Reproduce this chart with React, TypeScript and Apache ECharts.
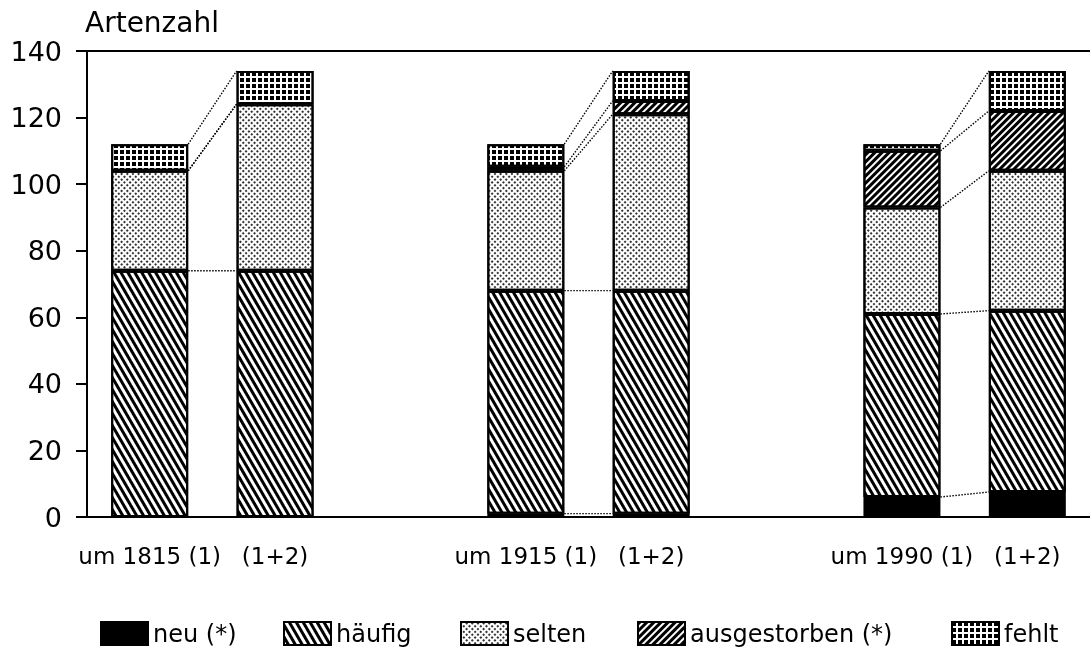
import React, { useEffect, useRef } from "react";
import * as echarts from "echarts";

const categories = ["um 1815 (1)", "(1+2)", "", "um 1915 (1)", "(1+2)", "", "um 1990 (1)", "(1+2)"];
const neu = [0, 0, null, 1, 1, null, 6, 7.5];
const haeufig = [74, 74, null, 67, 67, null, 55, 54.5];
const selten = [30, 50, null, 36, 53, null, 32, 42];
const ausgestorben = [0, 0, null, 1.2, 4, null, 17, 18];
const fehlt = [8, 10, null, 6.8, 9, null, 2, 12];
const yTicks = [0, 20, 40, 60, 80, 100, 120, 140];
const pairs = [[0, 1], [3, 4], [6, 7]];
const seriesNames = ["neu (*)", "häufig", "selten", "ausgestorben (*)", "fehlt"];

const BAR_W = 77;
const FONT = "DejaVu Sans";

export default function App() {
  const ref = useRef<HTMLDivElement>(null);
  useEffect(() => {
    document.body.style.margin = "0";
    const chart = echarts.init(ref.current!, null, { renderer: "svg" });
    const all = [neu, haeufig, selten, ausgestorben, fehlt];
    // connector lines: cumulative tops of each stacked segment
    const links: number[][] = [];
    pairs.forEach(([i, j]) => {
      let cl = 0;
      let cr = 0;
      all.forEach((arr) => {
        cl += (arr[i] as number) || 0;
        cr += (arr[j] as number) || 0;
        links.push([i, cl, j, cr]);
      });
    });
    const toBar = (arr: (number | null)[]) => arr.map((v) => (v ? v : null));
    const border = { borderColor: "#000", borderWidth: 2 };
    const styles: any[] = [
      { color: "#000", ...border },
      {
        color: "#fff",
        ...border,
        decal: { symbol: "rect", symbolSize: 1, dashArrayX: [1, 0], dashArrayY: [2.3, 2.3], rotation: Math.PI / 3, color: "#000" },
      },
      {
        color: "#fff",
        ...border,
        decal: { symbol: "rect", symbolSize: 1, dashArrayX: [1.3, 1.5], dashArrayY: [1.3, 1.5], rotation: Math.PI / 4, color: "#333" },
      },
      {
        color: "#fff",
        ...border,
        decal: { symbol: "rect", symbolSize: 1, dashArrayX: [1, 0], dashArrayY: [2.3, 1.2], rotation: -Math.PI / 4, color: "#000" },
      },
      {
        color: "#fff",
        ...border,
        decal: { symbol: "rect", symbolSize: 1, dashArrayX: [3.3, 1.1], dashArrayY: [3.3, 1.1], rotation: 0, color: "#000" },
      },
    ];
    const legendLefts = [100, 283, 460, 637, 951];
    chart.setOption({
      animation: false,
      textStyle: { fontFamily: FONT, color: "#000" },
      grid: { left: 87, top: 51, width: 1014, height: 466 },
      legend: seriesNames.map((n, k) => ({
        data: [n],
        left: legendLefts[k],
        top: 621,
        padding: 0,
        itemWidth: 47,
        itemHeight: 23,
        icon: "rect",
        selectedMode: false,
        textStyle: { fontFamily: FONT, fontSize: 24, color: "#000" },
      })),
      graphic: [
        {
          type: "text",
          left: 85,
          top: 8,
          style: { text: "Artenzahl", font: `28px "${FONT}"`, fill: "#000" },
        },
      ],
      xAxis: [
        {
          type: "category",
          data: categories.map((_, i) => "c" + i),
          boundaryGap: true,
          axisLine: { lineStyle: { color: "#000", width: 2 } },
          axisTick: { alignWithLabel: true, interval: 0, length: 13, lineStyle: { color: "#000", width: 2 } },
          axisLabel: {
            interval: 0,
            margin: 27,
            fontSize: 23,
            fontFamily: FONT,
            color: "#000",
            formatter: (_v: string, idx: number) => categories[idx],
          },
        },
        {
          type: "category",
          position: "top",
          data: categories.map((_, i) => "c" + i),
          axisLine: { show: true, lineStyle: { color: "#000", width: 2 } },
          axisTick: { show: false },
          axisLabel: { show: false },
        },
      ],
      yAxis: {
        type: "value",
        min: yTicks[0],
        max: yTicks[yTicks.length - 1],
        interval: 20,
        axisLine: { show: true, lineStyle: { color: "#000", width: 2 } },
        axisTick: { show: true, length: 11, lineStyle: { color: "#000", width: 2 } },
        splitLine: { show: false },
        axisLabel: { margin: 25, fontSize: 27, fontFamily: FONT, color: "#000" },
      },
      series: [
        ...all.map((arr, k) => ({
          name: seriesNames[k],
          type: "bar",
          stack: "total",
          barWidth: BAR_W,
          data: toBar(arr),
          itemStyle: styles[k],
          emphasis: { disabled: true },
        })),
        {
          type: "custom",
          silent: true,
          clip: false,
          data: links,
          encode: { x: 0, y: 1 },
          renderItem: (_p: any, api: any) => {
            const a = api.coord([api.value(0), api.value(1)]);
            const b = api.coord([api.value(2), api.value(3)]);
            return {
              type: "line",
              shape: { x1: a[0] + BAR_W / 2, y1: a[1], x2: b[0] - BAR_W / 2, y2: b[1] },
              style: { stroke: "#000", lineWidth: 1.4, lineDash: [1.5, 1.5] },
            };
          },
        },
      ],
    });
    return () => chart.dispose();
  }, []);
  return <div ref={ref} style={{ position: "fixed", left: 0, top: 0, width: 1090, height: 650 }} />;
}
